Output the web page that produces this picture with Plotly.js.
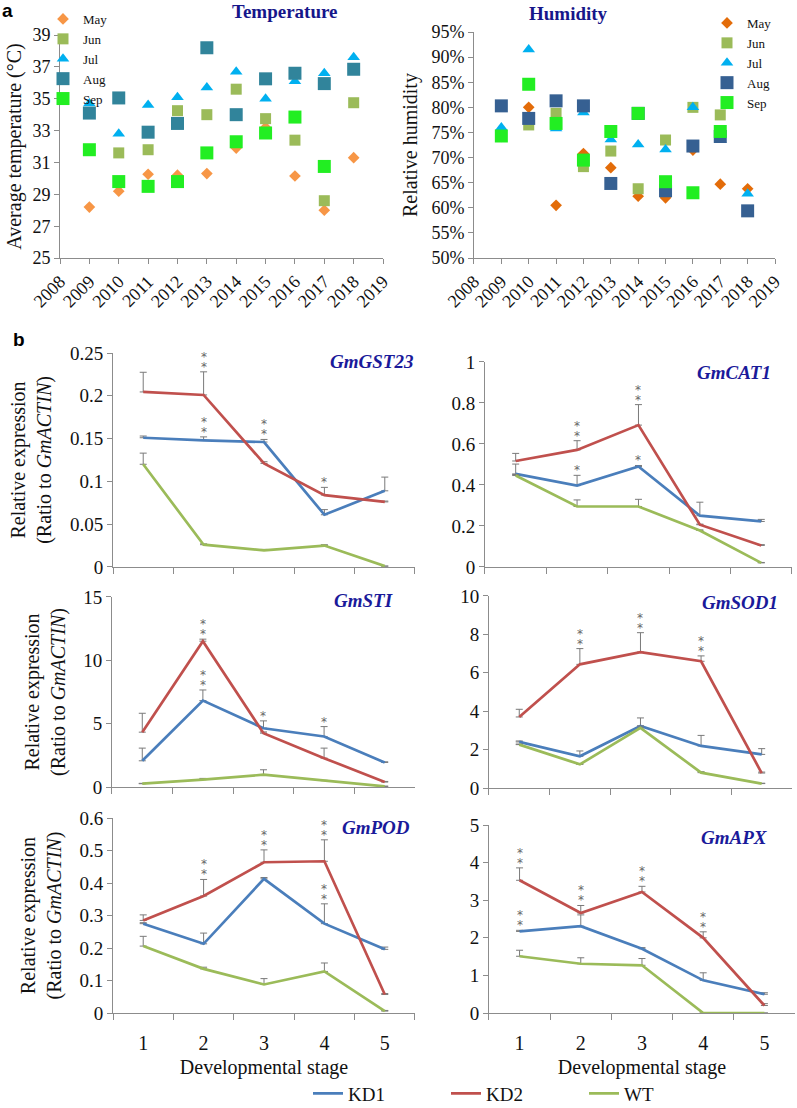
<!DOCTYPE html>
<html>
<head>
<meta charset="utf-8">
<script src="https://cdn.plot.ly/plotly-3.0.1.min.js"></script>
<style>
  html, body { margin: 0; padding: 0; background: #fff; }
  #chart { width: 797px; height: 1108px; }
</style>
</head>
<body>
<div id="chart"></div>
<script>
// panel a: monthly climate, 2009-2018
const YEARS = [2009, 2010, 2011, 2012, 2013, 2014, 2015, 2016, 2017, 2018];
const MONTHS = ['May', 'Jun', 'Jul', 'Aug', 'Sep'];

const TEMP_MAY = [28.2, 29.2, 30.26, 30.2, 30.3, 31.9, 33.2, 30.15, 28.0, 31.3];
const TEMP_JUN = [31.8, 31.6, 31.8, 34.25, 34.0, 35.6, 33.75, 32.4, 28.6, 34.75];
const TEMP_JUL = [34.7, 32.8, 34.6, 35.1, 35.7, 36.7, 35.0, 36.1, 36.6, 37.6];
const TEMP_AUG = [34.1, 35.05, 32.9, 33.45, 38.2, 34.0, 36.25, 36.6, 35.95, 36.85];
const TEMP_SEP = [31.8, 29.8, 29.5, 29.8, 31.6, 32.3, 32.85, 33.85, 30.75, null];

const HUM_MAY = [74.2, 80.0, 60.5, 70.8, 68.0, 62.3, 62.0, 71.5, 64.7, 63.8];
const HUM_JUN = [74.2, 76.5, 78.8, 68.2, 71.3, 63.8, 73.5, 80.0, 78.5, null];
const HUM_JUL = [76.0, 91.5, 75.8, 79.0, 73.6, 72.6, 71.6, 80.0, 73.5, 62.8];
const HUM_AUG = [80.3, 77.8, 81.3, 80.3, 64.85, 78.8, 63.4, 72.3, 74.2, 59.4];
const HUM_SEP = [74.3, 84.6, 76.8, 69.5, 75.2, 78.8, 65.2, 63.0, 75.2, null];

// panel b: relative expression by stage (mean, upper error)
const STAGES = ['1', '2', '3', '4', '5'];
const LINES = ['KD1', 'KD2', 'WT'];

const GST23_KD1 = [0.151, 0.148, 0.146, 0.061, 0.089], GST23_KD1_ERR = [0.002, 0.004, 0.003, 0.006, 0.016];
const GST23_KD2 = [0.2045, 0.201, 0.121, 0.084, 0.076], GST23_KD2_ERR = [0.023, 0.027, 0.002, 0.009, 0.001];
const GST23_WT  = [0.120, 0.026, 0.0195, 0.025, 0.001], GST23_WT_ERR  = [0.013, 0.001, 0.001, 0.001, 0];

const CAT1_KD1 = [0.454, 0.397, 0.49, 0.25, 0.222], CAT1_KD1_ERR = [0.048, 0.05, 0.005, 0.066, 0.01];
const CAT1_KD2 = [0.517, 0.571, 0.692, 0.206, 0.105], CAT1_KD2_ERR = [0.037, 0.045, 0.1, 0.003, 0.004];
const CAT1_WT  = [0.446, 0.295, 0.295, 0.178, 0.02], CAT1_WT_ERR  = [0.005, 0.032, 0.035, 0.003, 0.002];

const STI_KD1 = [2.07, 6.82, 4.64, 3.99, 1.94], STI_KD1_ERR = [1.0, 0.84, 0.58, 0.78, 0.05];
const STI_KD2 = [4.33, 11.51, 4.25, 2.28, 0.39], STI_KD2_ERR = [1.49, 0.16, 0.1, 0.79, 0.05];
const STI_WT  = [0.26, 0.58, 0.97, 0.5, 0.05], STI_WT_ERR  = [0.03, 0.1, 0.39, 0.03, 0.02];

const SOD1_KD1 = [2.40, 1.65, 3.23, 2.19, 1.75], SOD1_KD1_ERR = [0.05, 0.28, 0.42, 0.55, 0.3];
const SOD1_KD2 = [3.70, 6.44, 7.08, 6.60, 0.78], SOD1_KD2_ERR = [0.4, 0.82, 1.01, 0.28, 0.05];
const SOD1_WT  = [2.26, 1.23, 3.13, 0.80, 0.23], SOD1_WT_ERR  = [0.03, 0.03, 0.1, 0.05, 0.02];

const POD_KD1 = [0.275, 0.213, 0.413, 0.275, 0.196], POD_KD1_ERR = [0.003, 0.033, 0.004, 0.061, 0.007];
const POD_KD2 = [0.285, 0.36, 0.464, 0.467, 0.057], POD_KD2_ERR = [0.017, 0.051, 0.038, 0.066, 0.003];
const POD_WT  = [0.206, 0.136, 0.088, 0.128, 0.006], POD_WT_ERR  = [0.03, 0.005, 0.018, 0.026, 0.002];

const APX_KD1 = [2.17, 2.31, 1.71, 0.87, 0.5], APX_KD1_ERR = [0.03, 0.3, 0.03, 0.2, 0.04];
const APX_KD2 = [3.53, 2.66, 3.22, 2.0, 0.2], APX_KD2_ERR = [0.33, 0.2, 0.15, 0.16, 0.05];
const APX_WT  = [1.51, 1.31, 1.27, 0, 0], APX_WT_ERR  = [0.16, 0.16, 0.18, 0, 0];

// significance marks: [stage, line, number of stars]
const GST23_STARS = [['2', 'KD2', 2], ['2', 'KD1', 2], ['3', 'KD1', 2], ['4', 'KD2', 1]];
const CAT1_STARS = [['2', 'KD2', 2], ['2', 'KD1', 1], ['3', 'KD2', 2], ['3', 'KD1', 1]];
const STI_STARS = [['2', 'KD2', 2], ['2', 'KD1', 2], ['3', 'KD1', 1], ['4', 'KD1', 1]];
const SOD1_STARS = [['2', 'KD2', 2], ['3', 'KD2', 2], ['4', 'KD2', 2]];
const POD_STARS = [['2', 'KD2', 2], ['3', 'KD2', 2], ['4', 'KD2', 2], ['4', 'KD1', 2]];
const APX_STARS = [['1', 'KD2', 2], ['1', 'KD1', 2], ['2', 'KD2', 2], ['3', 'KD2', 2], ['4', 'KD2', 2]];

const SERIF = 'Liberation Serif';
const AXIS_COLOR = '#8c8c8c';
const LINE_COLORS = { KD1: '#4a7ebb', KD2: '#c0504d', WT: '#9bbb59' };

const traces = [];
const annotations = [];

// ---- panel a scatter ----
const TEMP_SERIES = [TEMP_MAY, TEMP_JUN, TEMP_JUL, TEMP_AUG, TEMP_SEP];
const HUM_SERIES = [HUM_MAY, HUM_JUN, HUM_JUL, HUM_AUG, HUM_SEP];
const TEMP_MARKERS = [
  { symbol: 'diamond', size: 9, color: '#f79646' },
  { symbol: 'square', size: 11, color: '#9bbb59' },
  { symbol: 'triangle-up', size: 11, color: '#00b0f0' },
  { symbol: 'square', size: 13, color: '#31849b' },
  { symbol: 'square', size: 13, color: '#22ee22' },
];
const HUM_MARKERS = [
  { symbol: 'diamond', size: 9, color: '#e36c09' },
  { symbol: 'square', size: 11, color: '#9bbb59' },
  { symbol: 'triangle-up', size: 11, color: '#00b0f0' },
  { symbol: 'square', size: 13, color: '#366092' },
  { symbol: 'square', size: 13, color: '#22ee22' },
];

MONTHS.forEach((m, i) => {
  traces.push({
    x: YEARS, y: TEMP_SERIES[i], name: m, type: 'scatter', mode: 'markers',
    marker: TEMP_MARKERS[i], xaxis: 'x', yaxis: 'y', legend: 'legend',
  });
});
MONTHS.forEach((m, i) => {
  traces.push({
    x: YEARS, y: HUM_SERIES[i], name: m, type: 'scatter', mode: 'markers',
    marker: HUM_MARKERS[i], xaxis: 'x2', yaxis: 'y2', legend: 'legend2',
  });
});

// ---- panel b lines ----
const GENES = [
  { name: 'GmGST23', ax: 3, data: { KD1: [GST23_KD1, GST23_KD1_ERR], KD2: [GST23_KD2, GST23_KD2_ERR], WT: [GST23_WT, GST23_WT_ERR] }, stars: GST23_STARS, lab: [1.0, 0.958] },
  { name: 'GmCAT1', ax: 4, data: { KD1: [CAT1_KD1, CAT1_KD1_ERR], KD2: [CAT1_KD2, CAT1_KD2_ERR], WT: [CAT1_WT, CAT1_WT_ERR] }, stars: CAT1_STARS, lab: [0.938, 0.951] },
  { name: 'GmSTI', ax: 5, data: { KD1: [STI_KD1, STI_KD1_ERR], KD2: [STI_KD2, STI_KD2_ERR], WT: [STI_WT, STI_WT_ERR] }, stars: STI_STARS, lab: [0.934, 0.979] },
  { name: 'GmSOD1', ax: 6, data: { KD1: [SOD1_KD1, SOD1_KD1_ERR], KD2: [SOD1_KD2, SOD1_KD2_ERR], WT: [SOD1_WT, SOD1_WT_ERR] }, stars: SOD1_STARS, lab: [0.96, 0.964] },
  { name: 'GmPOD', ax: 7, data: { KD1: [POD_KD1, POD_KD1_ERR], KD2: [POD_KD2, POD_KD2_ERR], WT: [POD_WT, POD_WT_ERR] }, stars: POD_STARS, lab: [0.99, 0.949] },
  { name: 'GmAPX', ax: 8, data: { KD1: [APX_KD1, APX_KD1_ERR], KD2: [APX_KD2, APX_KD2_ERR], WT: [APX_WT, APX_WT_ERR] }, stars: APX_STARS, lab: [0.918, 0.931] },
];

GENES.forEach((g, gi) => {
  LINES.forEach(k => {
    const [vals, errs] = g.data[k];
    traces.push({
      x: STAGES, y: vals, name: k, type: 'scatter', mode: 'lines',
      line: { color: LINE_COLORS[k], width: 2.7 },
      error_y: { type: 'data', symmetric: false, array: errs, arrayminus: errs.map(() => 0),
                 color: '#7a7a7a', thickness: 1, width: 3.5 },
      xaxis: 'x' + g.ax, yaxis: 'y' + g.ax,
      legend: 'legend3', showlegend: gi === 0,
    });
  });
  g.stars.forEach(([st, k, n]) => {
    const i = STAGES.indexOf(st);
    const top = g.data[k][0][i] + g.data[k][1][i];
    for (let s = 0; s < n; s++) {
      // category axis: position by category index
      annotations.push({
        x: i, y: top, xref: 'x' + g.ax, yref: 'y' + g.ax,
        text: '*', showarrow: false, yanchor: 'middle', yshift: 5 + s * 10,
        font: { family: 'DejaVu Sans', size: 12, color: '#666' },
      });
    }
  });
  annotations.push({
    x: g.lab[0], y: g.lab[1], xref: 'x' + g.ax + ' domain', yref: 'y' + g.ax + ' domain',
    xanchor: 'right', yanchor: 'middle', showarrow: false,
    text: '<b><i>' + g.name + '</i></b>',
    font: { family: SERIF, size: 19, color: '#1a1a9a' },
  });
});

// panel titles and letters
annotations.push(
  { x: 230 / 797, y: 1 - 11 / 1108, xref: 'paper', yref: 'paper', showarrow: false, yanchor: 'middle',
    text: '<b>Temperature</b>', font: { family: SERIF, size: 19, color: '#16168a' } },
  { x: 610 / 797, y: 1 - 14 / 1108, xref: 'paper', yref: 'paper', showarrow: false, yanchor: 'middle',
    text: '<b>Humidity</b>', font: { family: SERIF, size: 19, color: '#16168a' } },
  { x: 0, y: 1 - 10 / 1108, xref: 'paper', yref: 'paper', showarrow: false, xanchor: 'left', yanchor: 'middle',
    text: '<b>a</b>', font: { family: 'Liberation Sans', size: 19, color: '#000' } },
  { x: 11 / 797, y: 1 - 339 / 1108, xref: 'paper', yref: 'paper', showarrow: false, xanchor: 'left', yanchor: 'middle',
    text: '<b>b</b>', font: { family: 'Liberation Sans', size: 19, color: '#000' } },
);

const tickFont = { family: SERIF, size: 19, color: '#111' };
const baseAxis = {
  showline: true, linecolor: AXIS_COLOR, linewidth: 1,
  ticks: 'outside', ticklen: 5, tickcolor: AXIS_COLOR,
  showgrid: false, zeroline: false, tickfont: tickFont, automargin: false,
};
const yearAxis = (dom, anchor) => ({
  ...baseAxis, domain: dom, anchor: anchor, range: [2008, 2019],
  tickvals: [2008, 2009, 2010, 2011, 2012, 2013, 2014, 2015, 2016, 2017, 2018, 2019],
  tickangle: -45, tickfont: { ...tickFont, size: 18 },
});
const stageAxis = (dom, anchor, labels) => ({
  ...baseAxis, domain: dom, anchor: anchor, type: 'category', range: [-0.5, 4.5], tickson: 'boundaries', ticklen: 6,
  showticklabels: labels, ticklabelstandoff: 12, tickfont: { ...tickFont, size: 20 },
  title: labels ? { text: 'Developmental stage', font: { family: SERIF, size: 20, color: '#111' }, standoff: 6 } : undefined,
});
const exprTitle = { text: 'Relative expression<br>(Ratio to <i>GmACTIN</i>)', font: { family: SERIF, size: 20, color: '#111' }, standoff: 12 };
const exprAxis = (dom, anchor, range, dtick, withTitle) => ({
  ...baseAxis, domain: dom, anchor: anchor, range: range, dtick: dtick, tick0: 0,
  title: withTitle ? exprTitle : undefined,
});

const layout = {
  width: 797, height: 1108,
  margin: { l: 0, r: 0, t: 0, b: 0, autoexpand: false },
  paper_bgcolor: '#fff', plot_bgcolor: '#fff',
  font: { family: SERIF, color: '#111' },
  showlegend: true,
  xaxis: yearAxis([0.0753, 0.4806], 'y'),
  yaxis: { ...baseAxis, domain: [0.7671, 0.9684], anchor: 'x', range: [25, 39], dtick: 2, tick0: 25, tickfont: { ...tickFont, size: 18 },
           title: { text: 'Average temperature (°C)', font: { family: SERIF, size: 20, color: '#111' }, standoff: 5 } },
  xaxis2: yearAxis([0.5947, 0.9724], 'y2'),
  yaxis2: { ...baseAxis, domain: [0.7671, 0.9711], anchor: 'x2', range: [50, 95], dtick: 5, tick0: 50, ticksuffix: '%', tickfont: { ...tickFont, size: 18 },
            title: { text: 'Relative humidity', font: { family: SERIF, size: 20, color: '#111' }, standoff: 8 } },
  xaxis3: stageAxis([0.1418, 0.5207], 'y3', false),
  yaxis3: exprAxis([0.4883, 0.6814], 'x3', [0, 0.25], 0.05, true),
  xaxis4: stageAxis([0.6085, 0.9937], 'y4', false),
  yaxis4: exprAxis([0.4883, 0.6733], 'x4', [0, 1], 0.2, false),
  xaxis5: stageAxis([0.1405, 0.5207], 'y5', false),
  yaxis5: exprAxis([0.2897, 0.4612], 'x5', [0, 15], 5, true),
  xaxis6: stageAxis([0.6135, 0.9937], 'y6', false),
  yaxis6: exprAxis([0.2888, 0.4621], 'x6', [0, 10], 2, false),
  xaxis7: stageAxis([0.1418, 0.5207], 'y7', true),
  yaxis7: exprAxis([0.0857, 0.2617], 'x7', [0, 0.6], 0.1, true),
  xaxis8: stageAxis([0.6135, 0.9975], 'y8', true),
  yaxis8: exprAxis([0.0857, 0.2554], 'x8', [0, 5], 1, false),
  legend: { x: 43 / 797, y: 1 - 4 / 1108, xanchor: 'left', yanchor: 'top', bgcolor: 'rgba(0,0,0,0)',
            font: { family: SERIF, size: 13, color: '#111' }, tracegroupgap: 0 },
  legend2: { x: 707 / 797, y: 1 - 8 / 1108, xanchor: 'left', yanchor: 'top', bgcolor: 'rgba(0,0,0,0)',
             font: { family: SERIF, size: 13, color: '#111' }, tracegroupgap: 0 },
  legend3: { x: 308 / 797, y: -0.004, xanchor: 'left', yanchor: 'bottom', orientation: 'h',
             bgcolor: 'rgba(0,0,0,0)', entrywidth: 93, entrywidthmode: 'pixels',
             font: { family: SERIF, size: 19, color: '#111' } },
  annotations: annotations,
};

Plotly.newPlot('chart', traces, layout, { displayModeBar: false, responsive: false });
</script>
</body>
</html>
